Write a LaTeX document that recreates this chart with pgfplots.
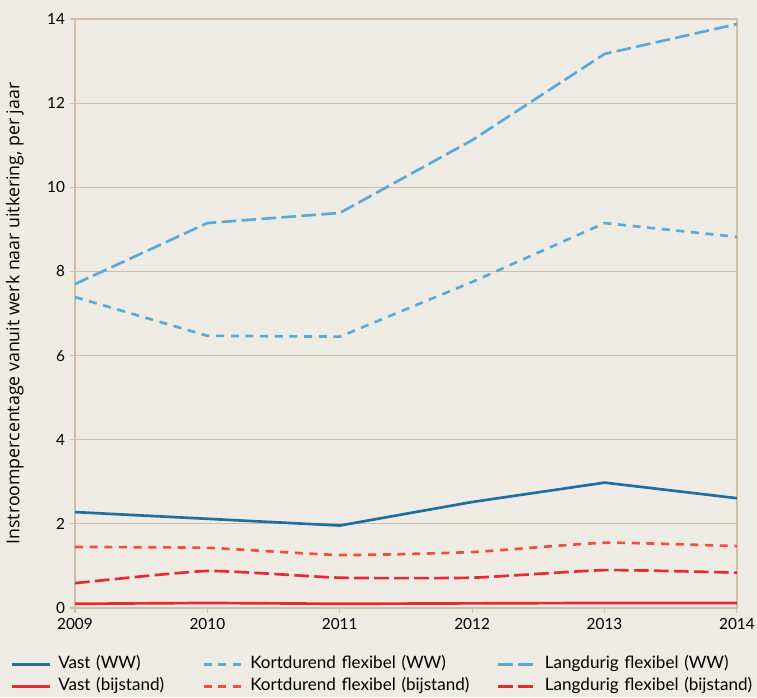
\documentclass[border=0pt]{standalone}
\usepackage{pgfplots}
\pgfplotsset{compat=1.18}
\usepackage{fontspec}
\setmainfont{Lato}
\newfontfamily\labfont{Open Sans}
\definecolor{bg}{HTML}{EEEBE4}
\definecolor{gridc}{HTML}{CDBFA8}
\definecolor{dblue}{HTML}{1F6E9F}
\definecolor{lblue}{HTML}{5AAAD5}
\definecolor{cred}{HTML}{E52A33}
\definecolor{ored}{HTML}{F04E3E}
\begin{document}
\begin{tikzpicture}[x=1pt,y=1pt]
\def\px{0.75}
\fill[bg] (-75*\px,-89*\px) rectangle (682*\px,608*\px);
\path[use as bounding box] (-75*\px,-89*\px) rectangle (682*\px,608*\px);
\begin{axis}[
  at={(0,0)}, anchor=south west,
  scale only axis, width=496.5pt, height=441.75pt,
  xmin=2009, xmax=2014, ymin=0, ymax=14,
  xtick={2009,...,2014}, ytick={0,2,...,14},
  xtick pos=bottom, ytick pos=left,
  xticklabel style={/pgf/number format/1000 sep={}},
  /pgf/number format/assume math mode=true,
  tick label style={font=\fontsize{11.5}{13}\selectfont, text=black},
  tick align=outside, major tick length=4pt,
  tick style={gridc, line width=0.8pt},
  axis line style={gridc, line width=1.2pt},
  ymajorgrids, grid style={gridc, line width=0.8pt},
  axis background/.style={fill=bg},
  ylabel={\labfont Instroompercentage vanuit werk naar uitkering, per jaar},
  ylabel style={font=\fontsize{13.3}{15}\selectfont, at={(-35pt,220.875pt)}, anchor=south},
  every axis plot/.append style={line width=2pt},
  legend columns=3,
  legend image code/.code={\draw[#1] (0pt,0pt) -- (29pt,0pt);},
  legend style={draw=none, fill=none, font=\fontsize{12.8}{15}\selectfont,
    at={(-48.75pt,-34.5pt)}, anchor=north west, inner sep=0pt,
    nodes={inner xsep=0pt, inner ysep=1pt, text height=10pt, text depth=3pt},
    row sep=1.5pt,
    /tikz/every odd column/.append style={column sep=5pt},
    /tikz/column 2/.style={text width=108pt},
    /tikz/column 4/.style={text width=185pt},
    /tikz/column 6/.style={text width=160pt}},
  legend cell align=left,
]
\addplot[dblue] coordinates {(2009,2.28) (2010,2.12) (2011,1.96) (2012,2.52) (2013,2.98) (2014,2.61)};
\addlegendentry{Vast (WW)}
\addplot[lblue, dash pattern=on 6pt off 5pt] coordinates {(2009,7.39) (2010,6.47) (2011,6.45) (2012,7.75) (2013,9.15) (2014,8.82)};
\addlegendentry{Kortdurend flexibel (WW)}
\addplot[lblue, dash pattern=on 11pt off 4pt] coordinates {(2009,7.70) (2010,9.15) (2011,9.39) (2012,11.12) (2013,13.17) (2014,13.88)};
\addlegendentry{Langdurig flexibel (WW)}
\addplot[cred] coordinates {(2009,0.10) (2010,0.12) (2011,0.10) (2012,0.11) (2013,0.12) (2014,0.12)};
\addlegendentry{Vast (bijstand)}
\addplot[ored, dash pattern=on 6pt off 5pt, smooth, tension=0.3] coordinates {(2009,1.45) (2010,1.43) (2011,1.26) (2012,1.33) (2013,1.55) (2014,1.47)};
\addlegendentry{Kortdurend flexibel (bijstand)}
\addplot[cred, dash pattern=on 11pt off 4pt, smooth, tension=0.3] coordinates {(2009,0.59) (2010,0.88) (2011,0.72) (2012,0.72) (2013,0.90) (2014,0.84)};
\addlegendentry{Langdurig flexibel (bijstand)}
\end{axis}
\end{tikzpicture}
\end{document}
